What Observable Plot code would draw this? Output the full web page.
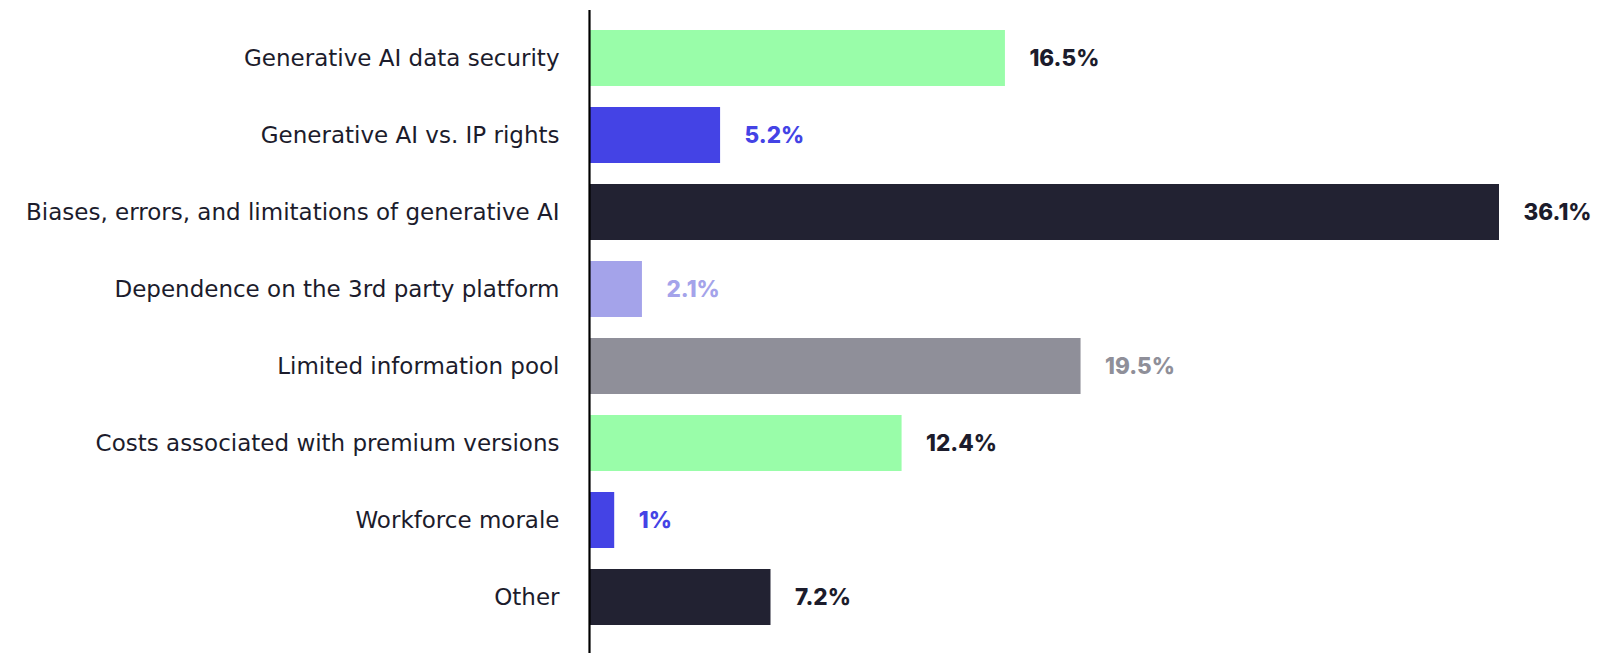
<!DOCTYPE html>
<html>
<head>
<meta charset="utf-8">
<script src="https://cdn.jsdelivr.net/npm/d3@7"></script>
<script src="https://cdn.jsdelivr.net/npm/@observablehq/plot@0.6"></script>
<style>
  html, body { margin: 0; padding: 0; background: #fff; }
  #chart svg { display: block; }
</style>
</head>
<body>
<div id="chart"></div>
<script>
const categories = [
  "Generative AI data security",
  "Generative AI vs. IP rights",
  "Biases, errors, and limitations of generative AI",
  "Dependence on the 3rd party platform",
  "Limited information pool",
  "Costs associated with premium versions",
  "Workforce morale",
  "Other"
];
const values = [16.5, 5.2, 36.1, 2.1, 19.5, 12.4, 1, 7.2];
const valueLabels = ["16.5%", "5.2%", "36.1%", "2.1%", "19.5%", "12.4%", "1%", "7.2%"];
const barColors = ["#99fda9", "#4443e5", "#222232", "#a4a3ea", "#8f8f99", "#99fda9", "#4443e5", "#222232"];
const labelColors = ["#1c1c2c", "#4443e5", "#1c1c2c", "#a4a3ea", "#8f8f99", "#1c1c2c", "#4443e5", "#1c1c2c"];

const data = categories.map((c, i) => ({
  category: c, value: values[i], label: valueLabels[i], bar: barColors[i], lab: labelColors[i]
}));

const chart = Plot.plot({
  width: 1600,
  height: 664,
  marginLeft: 589,
  marginRight: 101,
  marginTop: 10,
  marginBottom: 11,
  style: { fontFamily: "Inter, 'Open Sans', sans-serif", background: "#fff" },
  x: { domain: [0, 36.1], axis: null },
  y: { domain: categories, range: [28, 627], paddingInner: 0.278, paddingOuter: 0, label: null },
  marks: [
    Plot.barX(data, { x: "value", y: "category", fill: "bar" }),
    Plot.ruleX([0], { stroke: "#000", strokeWidth: 2.2 }),
    Plot.text(data, {
      x: "value", y: "category", text: "label", fill: "lab",
      dx: 24, textAnchor: "start", fontSize: 22.5, fontWeight: 800
    }),
    Plot.axisY({ tickSize: 0, tickPadding: 30, fontSize: 23, fill: "#1c1c2c", label: null,
                 fontFamily: "'DejaVu Sans', sans-serif" })
  ]
});
document.getElementById("chart").appendChild(chart);
</script>
</body>
</html>
